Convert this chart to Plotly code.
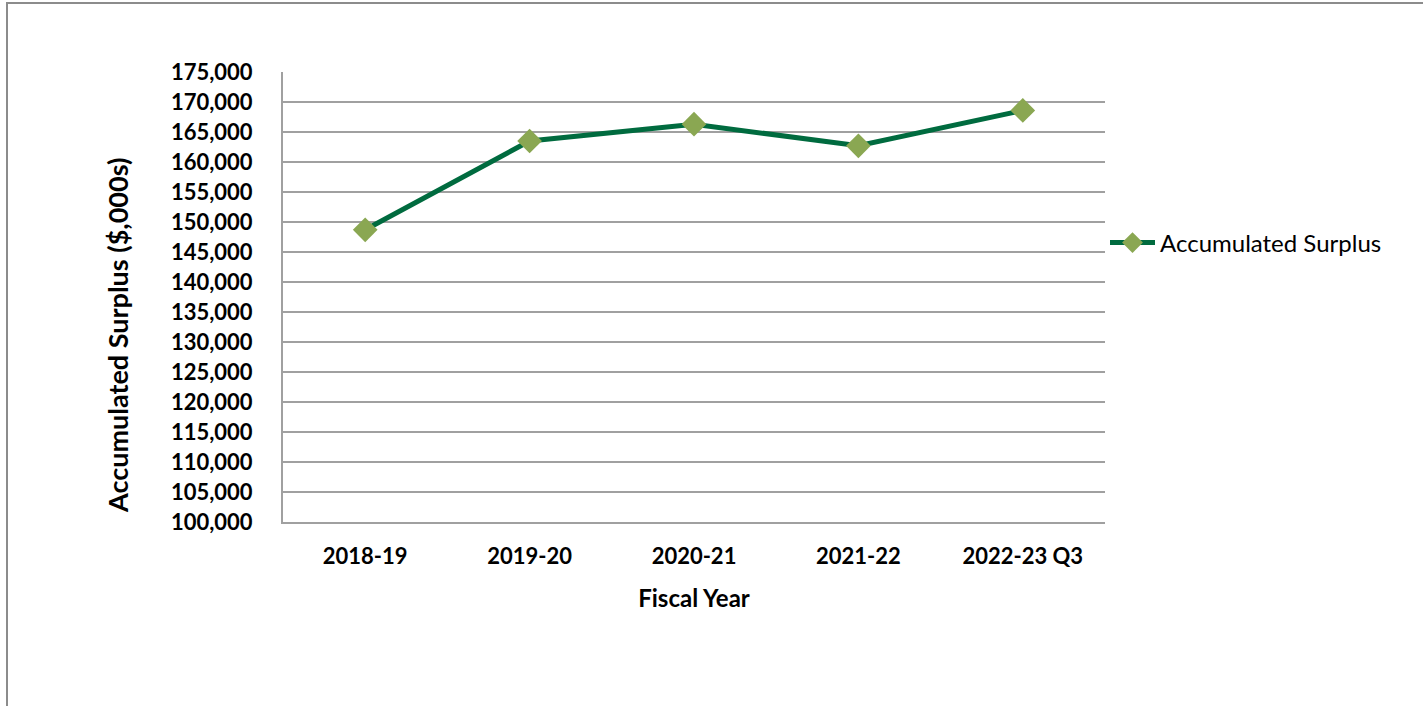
import plotly.graph_objects as go

# Accumulated surplus by fiscal year, in thousands of dollars
fiscal_years = ["2018-19", "2019-20", "2020-21", "2021-22", "2022-23 Q3"]
accumulated_surplus = [148700, 163500, 166300, 162700, 168600]

y_ticks = list(range(100000, 175001, 5000))
y_tick_labels = [f"{v:,}" for v in y_ticks]

FONT = "Lato, 'Open Sans', sans-serif"
GRID = "#a0a0a0"

# plot area in pixels
L, R, T, B = 283, 318, 72, 184
PW, PH = 1423 - L - R, 706 - T - B

fig = go.Figure()
fig.add_trace(go.Scatter(
    x=fiscal_years,
    y=accumulated_surplus,
    mode="lines+markers",
    name="Accumulated Surplus",
    line=dict(color="#006b3f", width=5),
    marker=dict(symbol="diamond", size=19, color="#8aa752",
                line=dict(width=0)),
))

fig.update_layout(
    width=1423,
    height=706,
    margin=dict(l=L, r=R, t=T, b=B),
    paper_bgcolor="white",
    plot_bgcolor="white",
    font=dict(family=FONT, color="black"),
    xaxis=dict(
        type="category",
        range=[-0.5, len(fiscal_years) - 0.5],
        showgrid=False,
        showline=True,
        linecolor=GRID,
        linewidth=2,
        ticks="",
        ticklabelstandoff=14,
        tickfont=dict(size=22, family=FONT, weight="bold"),
        title=dict(text="<b>Fiscal Year</b>", font=dict(size=24), standoff=22),
        fixedrange=True,
    ),
    yaxis=dict(
        range=[100000, 175000],
        tickvals=y_ticks,
        ticktext=y_tick_labels,
        showgrid=True,
        gridcolor=GRID,
        gridwidth=2,
        showline=True,
        linecolor=GRID,
        linewidth=2,
        ticks="",
        zeroline=False,
        ticklabelstandoff=24,
        tickfont=dict(size=22, family=FONT, weight="bold"),
        fixedrange=True,
    ),
    annotations=[dict(
        text="<b>Accumulated Surplus ($,000s)</b>",
        textangle=-90,
        xref="paper", yref="paper",
        x=(117 - L) / PW, y=1 - (336 - T) / PH,
        xanchor="center", yanchor="middle",
        showarrow=False,
        font=dict(size=27, family=FONT, color="black"),
    )],
    showlegend=True,
    legend=dict(
        x=1.0, xanchor="left",
        y=0.62, yanchor="middle",
        font=dict(size=24, family=FONT),
        bgcolor="rgba(0,0,0,0)",
        itemwidth=45,
    ),
    shapes=[dict(
        type="rect", xref="paper", yref="paper",
        x0=-(L - 7) / PW, x1=1.5, y0=-1.0, y1=1 + (T - 3) / PH,
        line=dict(color="#8c8c8c", width=2),
        layer="below",
    )],
)

fig.write_html("out.html")
